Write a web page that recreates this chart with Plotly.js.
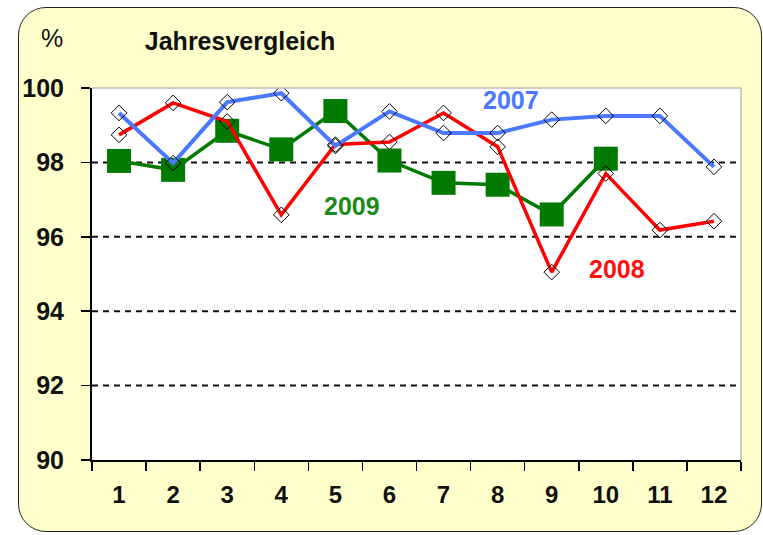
<!DOCTYPE html>
<html><head><meta charset="utf-8">
<script src="https://cdn.plot.ly/plotly-3.0.1.min.js"></script>
<style>
html,body{margin:0;padding:0;background:#fff;width:763px;height:535px;overflow:hidden;}
#frame{position:absolute;left:18px;top:7px;width:742px;height:523px;border:1.5px solid #222;border-radius:28px;background:#ffffcc;}
#chart{position:absolute;left:0;top:0;width:763px;height:535px;}
</style></head>
<body>
<div id="frame"></div>
<div id="chart"></div>
<script>
const months = ['1','2','3','4','5','6','7','8','9','10','11','12'];
const y2007 = [99.33, 97.98, 99.62, 99.86, 98.44, 99.37, 98.79, 98.79, 99.15, 99.25, 99.25, 97.88];
const y2008 = [98.74, 99.6, 99.1, 96.59, 98.48, 98.55, 99.33, 98.42, 95.05, 97.7, 96.18, 96.42];
const y2009 = [98.04, 97.8, 98.85, 98.35, 99.38, 98.05, 97.45, 97.4, 96.6, 98.1];
const yTicks = [90, 92, 94, 96, 98, 100];
const gridVals = [92, 94, 96, 98];

const FONT = 'Liberation Sans, Arial, sans-serif';
const diamond = {symbol:'diamond', size:12, color:'rgba(0,0,0,0)', line:{color:'#000', width:1}};

const traces = [
  {x: months.slice(0, y2009.length), y: y2009, mode:'lines+markers', name:'2009',
   line:{color:'#007a00', width:3.5}, marker:{symbol:'square', size:24, color:'#007a00'}},
  {x: months, y: y2008, mode:'lines+markers', name:'2008',
   line:{color:'#ff0000', width:3.5}, marker: diamond},
  {x: months, y: y2007, mode:'lines+markers', name:'2007',
   line:{color:'#4a78ff', width:4}, marker: diamond}
];

const shapes = gridVals.map(v => ({type:'line', xref:'paper', yref:'y', x0:0, x1:1, y0:v, y1:v,
  line:{color:'#111', width:2, dash:'6px,5px'}, layer:'below'}));
shapes.push({type:'line', xref:'paper', yref:'paper', x0:0, x1:1, y0:1, y1:1, line:{color:'#bbb', width:1.5}});
shapes.push({type:'line', xref:'paper', yref:'paper', x0:1, x1:1, y0:0, y1:1, line:{color:'#bbb', width:1.5}});

function label(text, px, py, size, color, weight) {
  return {text:text, xref:'paper', yref:'paper', x:(px-92)/649, y:(460-py)/372,
          xanchor:'center', yanchor:'middle', showarrow:false,
          font:{family:FONT, size:size, weight:weight || 'bold', color:color}};
}

const layout = {
  width:763, height:535,
  margin:{l:92, r:22, t:88, b:75},
  paper_bgcolor:'rgba(0,0,0,0)', plot_bgcolor:'#fff',
  showlegend:false,
  font:{family:FONT, color:'#111'},
  title:{text:'Jahresvergleich', x:240/763, xanchor:'center', y:1-41/535, yanchor:'middle',
         font:{family:FONT, size:25, weight:'bold', color:'#111'}},
  xaxis:{type:'category', range:[-0.5, 11.5], tickson:'boundaries', ticks:'outside', ticklen:9,
         tickcolor:'#000', tickwidth:1.5, showline:true, linecolor:'#000', linewidth:2,
         showgrid:false, zeroline:false, fixedrange:true,
         tickfont:{family:FONT, size:24, weight:'bold', color:'#111'}, ticklabelstandoff:12},
  yaxis:{range:[90, 100], tickmode:'array', tickvals:yTicks, ticktext:yTicks.map(String),
         ticks:'outside', ticklen:9, tickcolor:'#000', tickwidth:1.5,
         showline:true, linecolor:'#000', linewidth:2, showgrid:false, zeroline:false,
         tickfont:{family:FONT, size:25, weight:'bold', color:'#111'}, ticklabelstandoff:12},
  shapes: shapes,
  annotations:[
    label('%', 52, 38, 25, '#111', 'normal'),
    label('2007', 511, 100, 25, '#4a78ff'),
    label('2008', 617, 269, 25, '#ff1010'),
    label('2009', 352, 206, 25, '#1a8a1a')
  ]
};

Plotly.newPlot('chart', traces, layout, {displayModeBar:false, staticPlot:true});
</script>
</body></html>
